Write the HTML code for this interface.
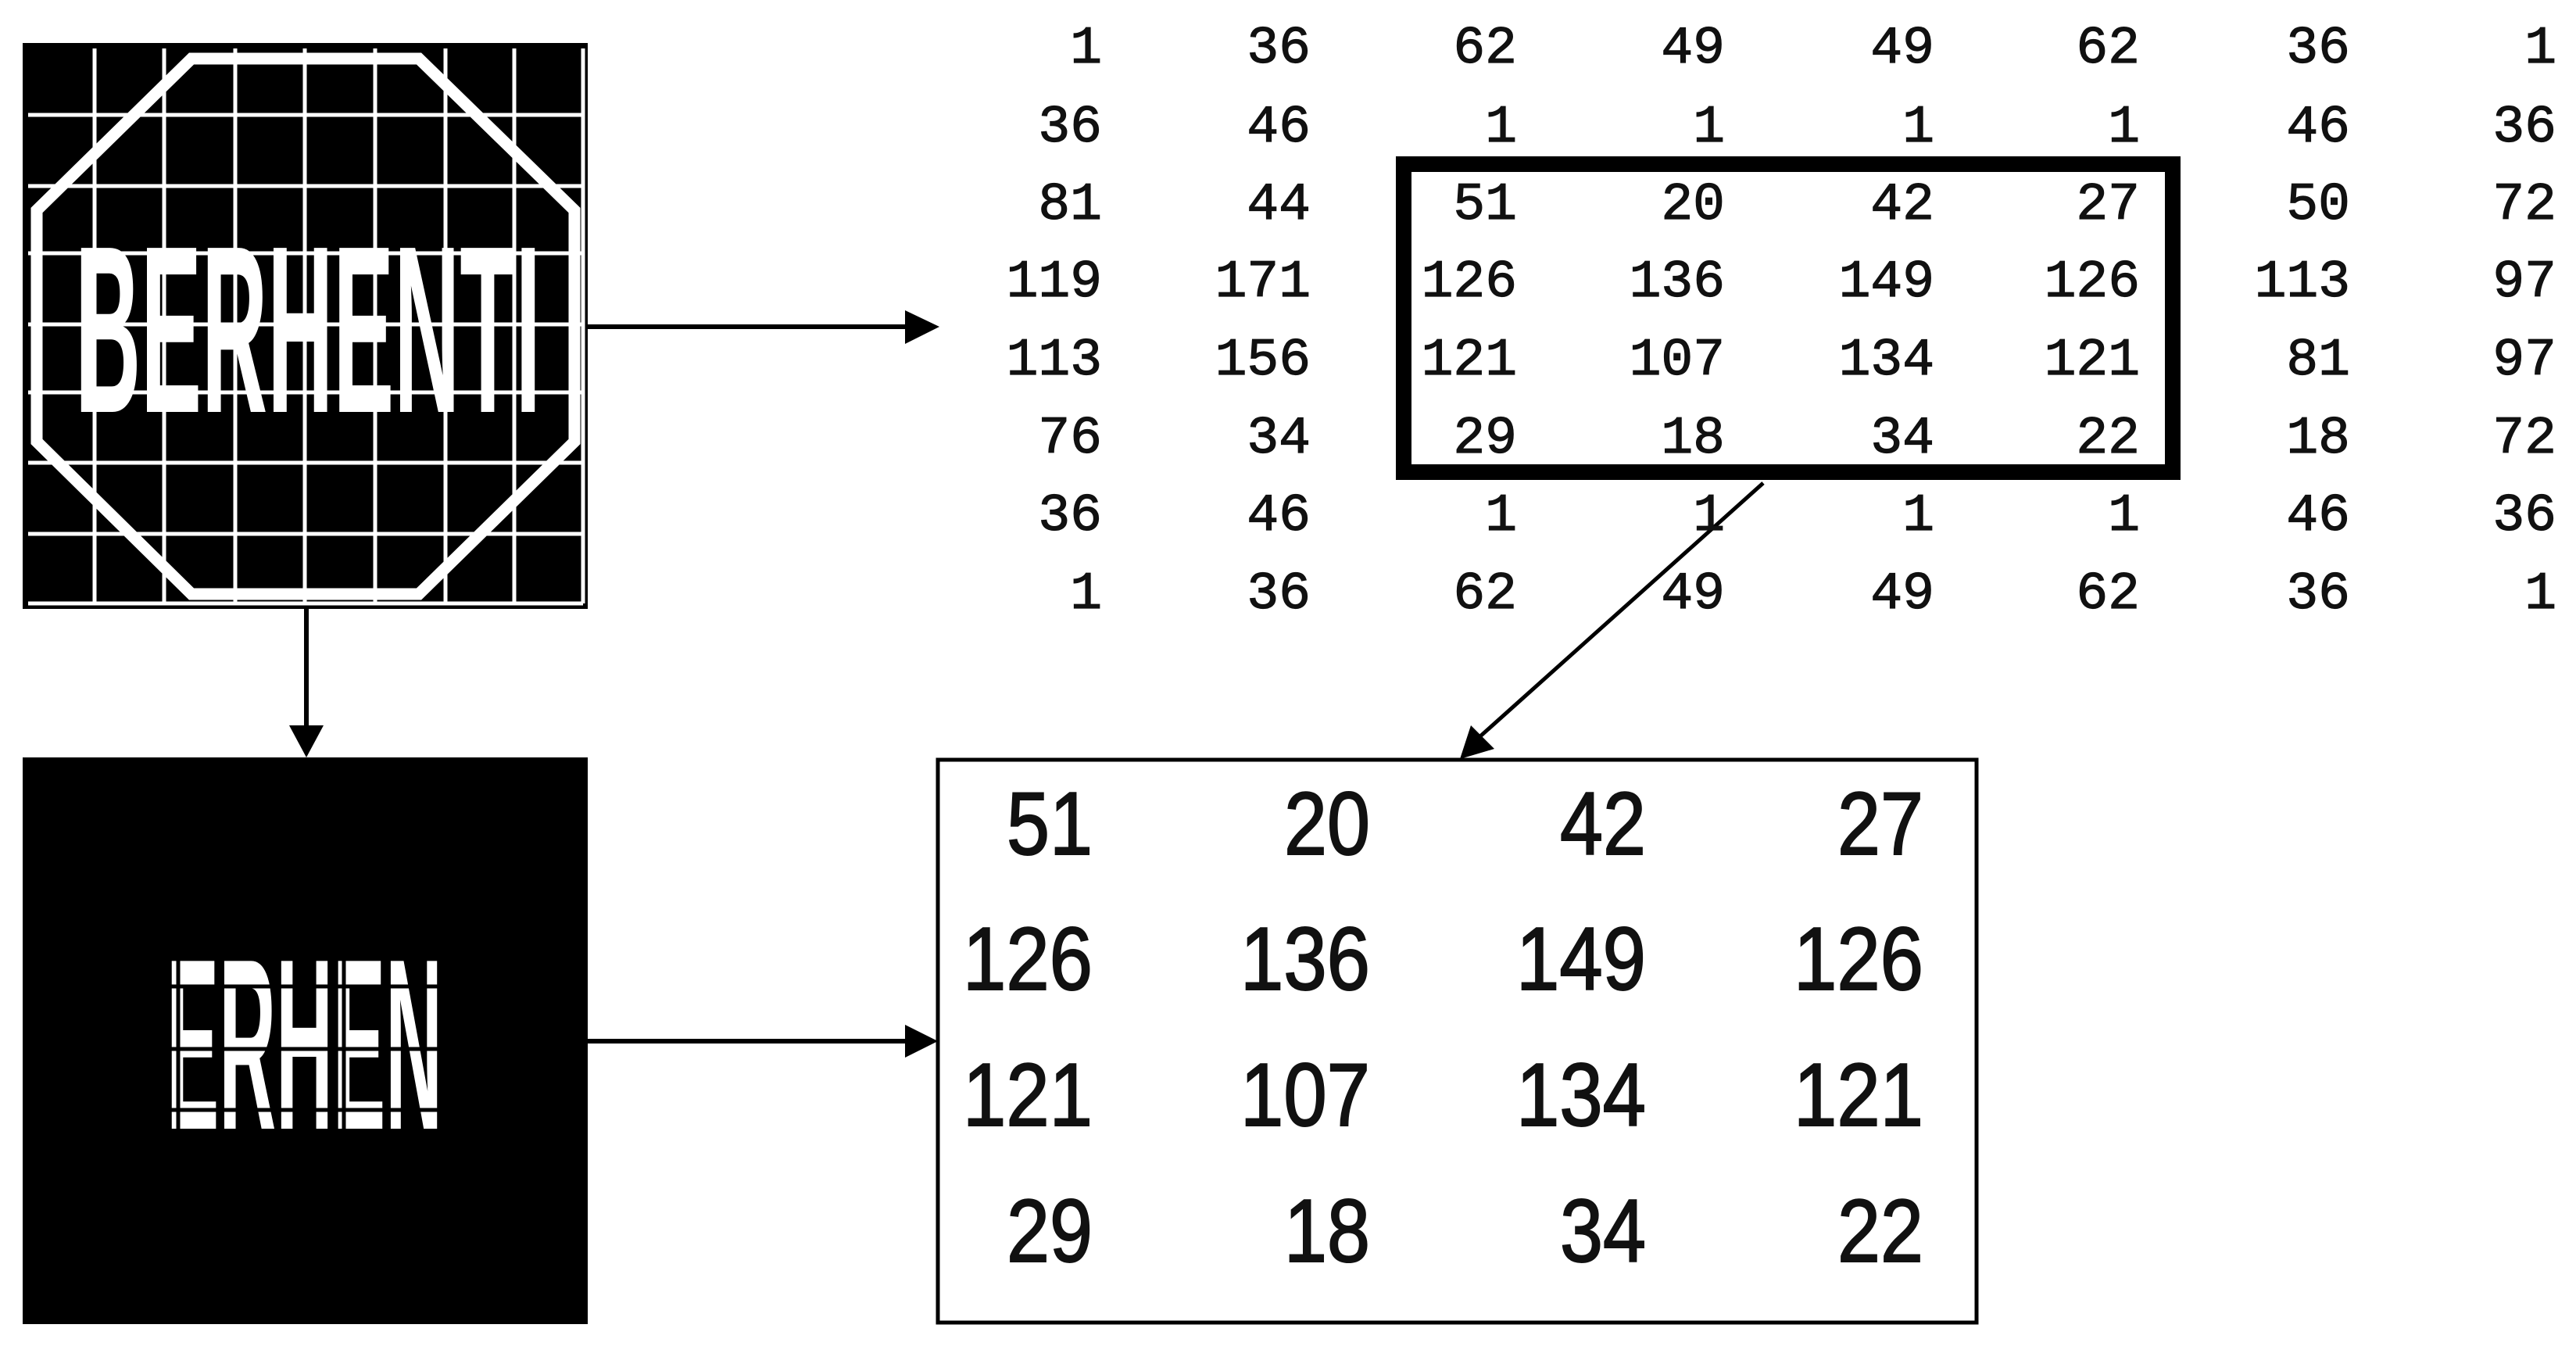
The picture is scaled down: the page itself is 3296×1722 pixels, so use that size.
<!DOCTYPE html>
<html><head><meta charset="utf-8"><style>
html,body{margin:0;padding:0;background:#fff;}
svg{display:block;}
.m{font-family:"Liberation Mono",monospace;fill:#111;stroke:#111;stroke-width:1.2;}
</style></head><body>
<svg width="3296" height="1722" viewBox="0 0 3296 1722" xmlns="http://www.w3.org/2000/svg">
<rect x="29" y="55" width="723" height="724" fill="#000"/>
<g stroke="#fff" stroke-width="15" fill="none">
<polygon points="245,75 536,75 735,269 735,565 536,760 245,760 47,565 47,269"/>
</g>
<text x="96" y="527" font-family="'Liberation Sans Narrow','Liberation Sans',sans-serif" font-weight="bold" font-size="305" fill="#fff" textLength="596" lengthAdjust="spacingAndGlyphs">BERHENTI</text>
<g stroke="#fff" stroke-width="5">
<line x1="121" y1="62" x2="121" y2="772"/><line x1="210" y1="62" x2="210" y2="772"/>
<line x1="301" y1="62" x2="301" y2="772"/><line x1="390" y1="62" x2="390" y2="772"/>
<line x1="480" y1="62" x2="480" y2="772"/><line x1="570" y1="62" x2="570" y2="772"/>
<line x1="658" y1="62" x2="658" y2="772"/><line x1="746" y1="62" x2="746" y2="772"/>
<line x1="36" y1="147" x2="746" y2="147"/><line x1="36" y1="238" x2="746" y2="238"/>
<line x1="36" y1="324" x2="746" y2="324"/><line x1="36" y1="415" x2="746" y2="415"/>
<line x1="36" y1="502" x2="746" y2="502"/><line x1="36" y1="592" x2="746" y2="592"/>
<line x1="36" y1="683" x2="746" y2="683"/><line x1="36" y1="772" x2="746" y2="772"/>
</g>
<rect x="29" y="969" width="723" height="725" fill="#000"/>
<text x="213" y="1444" font-family="'Liberation Sans Narrow','Liberation Sans',sans-serif" font-weight="bold" font-size="312" fill="#fff" textLength="353" lengthAdjust="spacingAndGlyphs">ERHEN</text>
<g stroke="#000" stroke-width="5">
<line x1="205" y1="1262" x2="575" y2="1262"/><line x1="205" y1="1342" x2="575" y2="1342"/>
<line x1="205" y1="1420" x2="575" y2="1420"/>
<line x1="228" y1="1210" x2="228" y2="1450"/><line x1="440" y1="1210" x2="440" y2="1450"/>
</g>
<g stroke="#000" stroke-width="6">
<line x1="752" y1="418" x2="1165" y2="418"/>
<line x1="392" y1="779" x2="392" y2="935"/>
<line x1="752" y1="1332" x2="1165" y2="1332"/>
<line x1="2256" y1="618" x2="1885" y2="950" stroke-width="5"/>
</g>
<polygon points="1158,397 1202,418 1158,440" fill="#000"/>
<polygon points="370,928 414,928 392,969" fill="#000"/>
<polygon points="1158,1311 1200,1332 1158,1353" fill="#000"/>
<polygon points="1868,971 1882,928 1912,958" fill="#000"/>
<rect x="1200" y="972" width="1329" height="720" fill="none" stroke="#000" stroke-width="5"/>
<rect x="1796" y="210" width="984" height="394" fill="none" stroke="#000" stroke-width="20"/>
<g class="m" font-size="68" text-anchor="end">
<text x="1410" y="80">1</text><text x="1677" y="80">36</text><text x="1941" y="80">62</text><text x="2207" y="80">49</text><text x="2475" y="80">49</text><text x="2738" y="80">62</text><text x="3007" y="80">36</text><text x="3271" y="80">1</text>
<text x="1410" y="181">36</text><text x="1677" y="181">46</text><text x="1941" y="181">1</text><text x="2207" y="181">1</text><text x="2475" y="181">1</text><text x="2738" y="181">1</text><text x="3007" y="181">46</text><text x="3271" y="181">36</text>
<text x="1410" y="280">81</text><text x="1677" y="280">44</text><text x="1941" y="280">51</text><text x="2207" y="280">20</text><text x="2475" y="280">42</text><text x="2738" y="280">27</text><text x="3007" y="280">50</text><text x="3271" y="280">72</text>
<text x="1410" y="379">119</text><text x="1677" y="379">171</text><text x="1941" y="379">126</text><text x="2207" y="379">136</text><text x="2475" y="379">149</text><text x="2738" y="379">126</text><text x="3007" y="379">113</text><text x="3271" y="379">97</text>
<text x="1410" y="479">113</text><text x="1677" y="479">156</text><text x="1941" y="479">121</text><text x="2207" y="479">107</text><text x="2475" y="479">134</text><text x="2738" y="479">121</text><text x="3007" y="479">81</text><text x="3271" y="479">97</text>
<text x="1410" y="579">76</text><text x="1677" y="579">34</text><text x="1941" y="579">29</text><text x="2207" y="579">18</text><text x="2475" y="579">34</text><text x="2738" y="579">22</text><text x="3007" y="579">18</text><text x="3271" y="579">72</text>
<text x="1410" y="678">36</text><text x="1677" y="678">46</text><text x="1941" y="678">1</text><text x="2207" y="678">1</text><text x="2475" y="678">1</text><text x="2738" y="678">1</text><text x="3007" y="678">46</text><text x="3271" y="678">36</text>
<text x="1410" y="778">1</text><text x="1677" y="778">36</text><text x="1941" y="778">62</text><text x="2207" y="778">49</text><text x="2475" y="778">49</text><text x="2738" y="778">62</text><text x="3007" y="778">36</text><text x="3271" y="778">1</text>
</g>
<g font-family="'Liberation Sans','DejaVu Sans',sans-serif" font-size="114" fill="#111" stroke="#111" stroke-width="2" text-anchor="end" lengthAdjust="spacingAndGlyphs">
<text x="1398" y="1093" textLength="110" lengthAdjust="spacingAndGlyphs">51</text><text x="1753" y="1093" textLength="110" lengthAdjust="spacingAndGlyphs">20</text><text x="2106" y="1093" textLength="110" lengthAdjust="spacingAndGlyphs">42</text><text x="2461" y="1093" textLength="110" lengthAdjust="spacingAndGlyphs">27</text>
<text x="1398" y="1266" textLength="166" lengthAdjust="spacingAndGlyphs">126</text><text x="1753" y="1266" textLength="166" lengthAdjust="spacingAndGlyphs">136</text><text x="2106" y="1266" textLength="166" lengthAdjust="spacingAndGlyphs">149</text><text x="2461" y="1266" textLength="166" lengthAdjust="spacingAndGlyphs">126</text>
<text x="1398" y="1440" textLength="166" lengthAdjust="spacingAndGlyphs">121</text><text x="1753" y="1440" textLength="166" lengthAdjust="spacingAndGlyphs">107</text><text x="2106" y="1440" textLength="166" lengthAdjust="spacingAndGlyphs">134</text><text x="2461" y="1440" textLength="166" lengthAdjust="spacingAndGlyphs">121</text>
<text x="1398" y="1614" textLength="110" lengthAdjust="spacingAndGlyphs">29</text><text x="1753" y="1614" textLength="110" lengthAdjust="spacingAndGlyphs">18</text><text x="2106" y="1614" textLength="110" lengthAdjust="spacingAndGlyphs">34</text><text x="2461" y="1614" textLength="110" lengthAdjust="spacingAndGlyphs">22</text>
</g>
</svg>
</body></html>
